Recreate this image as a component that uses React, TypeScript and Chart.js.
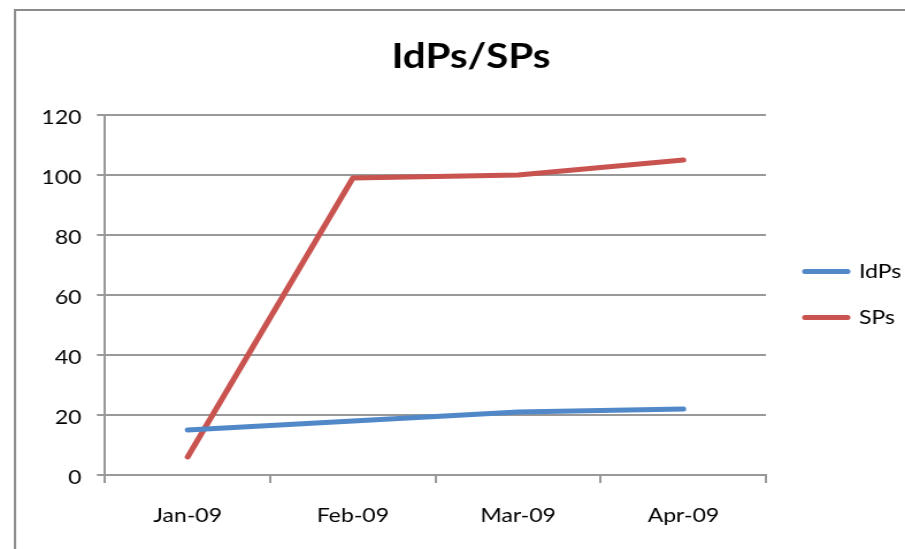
import React, { useEffect, useRef } from 'react';
import { Chart, registerables } from 'chart.js';

Chart.register(...registerables);

// ---- data ----
const categories = ['Jan-09', 'Feb-09', 'Mar-09', 'Apr-09'];
const idpsValues = [15, 18, 21, 22];
const spsValues = [6, 99, 100, 105];
const seriesLabels = ['IdPs', 'SPs'];
const yMin = 0;
const yMax = 120;
const yStep = 20;
const titleText = 'IdPs/SPs';

// ---- layout / style ----
const SX = 1.15; // horizontal stretch of the reference picture
const W = 818;
const H = 560;
const FONT = 'Lato';
const TICK_SIZE = 20;
const GRID = '#999999';
const BLUE = '#5088C8';
const RED = '#C9534F';

export default function App() {
  const ref = useRef<HTMLCanvasElement | null>(null);

  useEffect(() => {
    const canvas = ref.current;
    if (!canvas) return;

    const m = document.createElement('canvas').getContext('2d')!;
    m.font = `${TICK_SIZE}px ${FONT}`;
    const textW = Math.max(...seriesLabels.map((t) => m.measureText(t).width));

    const legendPad = 26;
    const boxW = 37;
    const legendW = legendPad + boxW + TICK_SIZE / 2 + textW + 10;
    const legendLeft = 700 - legendPad;
    const plotLeft = 105 / SX;
    const plotRight = 766 / SX;
    const titleCenter = 471 / SX;
    const pr = W - legendLeft - legendW;
    const pl = Math.max(0, 2 * titleCenter - (legendLeft + legendW));

    const borderPlugin = {
      id: 'outerBorder',
      beforeDraw(chart: any) {
        const ctx = chart.ctx;
        ctx.save();
        ctx.fillStyle = '#ffffff';
        ctx.fillRect(0, 0, chart.width, chart.height);
        ctx.strokeStyle = '#8c8c8c';
        ctx.lineWidth = 2;
        ctx.strokeRect(15 / SX, 10, chart.width + 20, chart.height + 20);
        ctx.restore();
      },
    };

    const mkSeries = (label: string, data: number[], color: string) => ({
      label,
      data,
      borderColor: color,
      backgroundColor: color,
      borderWidth: 5,
      borderCapStyle: 'round',
      borderJoinStyle: 'round',
      pointRadius: 0,
      pointHoverRadius: 0,
      pointBorderWidth: 5,
      pointBorderColor: color,
      pointBackgroundColor: color,
      tension: 0,
      yAxisID: 'y',
    });

    const defaultLabels = (Chart.defaults as any).plugins.legend.labels.generateLabels;

    const chart = new Chart(canvas, {
      type: 'line',
      data: {
        labels: categories,
        datasets: [
          mkSeries(seriesLabels[0], idpsValues, BLUE),
          mkSeries(seriesLabels[1], spsValues, RED),
        ],
      },
      options: {
        responsive: false,
        animation: false,
        devicePixelRatio: 1,
        layout: { padding: { left: pl, right: pr, top: 0, bottom: 25 } },
        plugins: {
          tooltip: { enabled: false },
          title: {
            display: true,
            text: titleText,
            color: '#000',
            font: { family: FONT, size: 35, weight: 'bold', lineHeight: 1.2 },
            padding: { top: 36, bottom: 37 },
          },
          legend: {
            position: 'right',
            align: 'center',
            title: {
              display: true,
              text: '',
              font: { family: FONT, size: 10, lineHeight: 1 },
              padding: { top: 44, bottom: 0 },
            },
            labels: {
              usePointStyle: true,
              pointStyle: 'line',
              pointStyleWidth: boxW,
              padding: legendPad,
              color: '#000',
              font: { family: FONT, size: TICK_SIZE },
              generateLabels(c: any) {
                return defaultLabels(c).map((it: any) => ({
                  ...it,
                  lineWidth: 5,
                  lineCap: 'round',
                  pointStyle: 'line',
                }));
              },
            },
          },
        },
        scales: {
          x: {
            type: 'category',
            offset: true,
            grid: {
              display: true,
              drawOnChartArea: false,
              drawTicks: true,
              tickLength: 8,
              offset: true,
              color: GRID,
              lineWidth: 2,
            },
            border: { display: true, color: GRID, width: 2 },
            ticks: {
              color: '#000',
              font: { family: FONT, size: TICK_SIZE },
              padding: 20.3,
              maxRotation: 0,
              autoSkip: false,
            },
            afterFit(scale: any) {
              scale.height = 60;
            },
          },
          y: {
            type: 'linear',
            position: 'left',
            min: yMin,
            max: yMax,
            ticks: {
              stepSize: yStep,
              color: '#000',
              font: { family: FONT, size: TICK_SIZE },
              padding: 13.4,
              labelOffset: 3,
            },
            grid: {
              color: GRID,
              lineWidth: 2,
              drawTicks: true,
              tickLength: 7,
            },
            border: { display: true, color: GRID, width: 2 },
            afterFit(scale: any) {
              scale.width = plotLeft - pl;
            },
          },
          gap: {
            type: 'linear',
            position: 'right',
            display: true,
            grid: { display: false },
            ticks: { display: false },
            border: { display: false },
            afterFit(scale: any) {
              scale.width = legendLeft - plotRight;
            },
          },
        },
      },
      plugins: [borderPlugin],
    } as any);

    return () => chart.destroy();
  }, []);

  return (
    <div
      style={{
        position: 'fixed',
        left: 0,
        top: 0,
        width: 905,
        height: 549,
        overflow: 'hidden',
        background: '#fff',
      }}
    >
      <div
        style={{
          width: W,
          height: H,
          transform: `scaleX(${SX})`,
          transformOrigin: '0 0',
        }}
      >
        <canvas
          ref={ref}
          width={W}
          height={H}
          style={{ display: 'block', width: `${W}px`, height: `${H}px` }}
        />
      </div>
    </div>
  );
}
